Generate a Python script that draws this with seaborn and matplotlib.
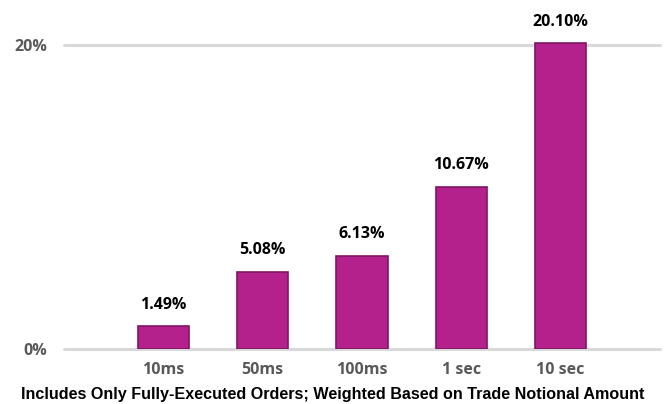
import matplotlib
matplotlib.use("Agg")
import matplotlib.pyplot as plt
import seaborn as sns
import pandas as pd

categories = ["10ms", "50ms", "100ms", "1 sec", "10 sec"]
values = [1.49, 5.08, 6.13, 10.67, 20.10]
value_labels = ["1.49%", "5.08%", "6.13%", "10.67%", "20.10%"]
ytick_vals = [0, 20]
ytick_labels = ["0%", "20%"]
caption = "Includes Only Fully-Executed Orders; Weighted Based on Trade Notional Amount"

df = pd.DataFrame({"cat": categories, "val": values})

sns.set_theme(style="white")
plt.rcParams["font.family"] = ["Open Sans", "DejaVu Sans"]
fig = plt.figure(figsize=(6.65, 4.04), dpi=100)
ax = fig.add_axes([64/665, 55/404, 596/665, 349/404])

for y in ytick_vals:
    ax.axhline(y, color="#d9d9d9", lw=2.2, zorder=0, clip_on=False)

sns.barplot(data=df, x="cat", y="val", color="#b5218c", width=0.52,
            edgecolor="#7d1662", linewidth=1.2, saturation=1, ax=ax, zorder=2)

for i, (v, lab) in enumerate(zip(values, value_labels)):
    ax.text(i, v + 0.88, lab, ha="center", va="bottom", fontsize=11.5,
            fontweight="bold", color="black")

ax.set_xlim(-1.0, 5.0)
ax.set_ylim(0, 22.96)
ax.set_yticks(ytick_vals)
ax.set_yticklabels(ytick_labels, fontsize=11.5, fontweight="bold", color="#595959")
ax.set_xticks(range(len(categories)))
ax.set_xticklabels(categories, fontsize=11.5, fontweight="bold", color="#595959")
ax.tick_params(axis="x", length=0, pad=9)
ax.tick_params(axis="y", length=0, pad=12)
ax.set_xlabel("")
ax.set_ylabel("")
for s in ax.spines.values():
    s.set_visible(False)

fig.text(0.5, 9/404, caption, ha="center", va="center", fontsize=11.6,
         fontweight="bold", color="black", family=["Liberation Sans", "DejaVu Sans"])

fig.savefig("out.png", dpi=100)
